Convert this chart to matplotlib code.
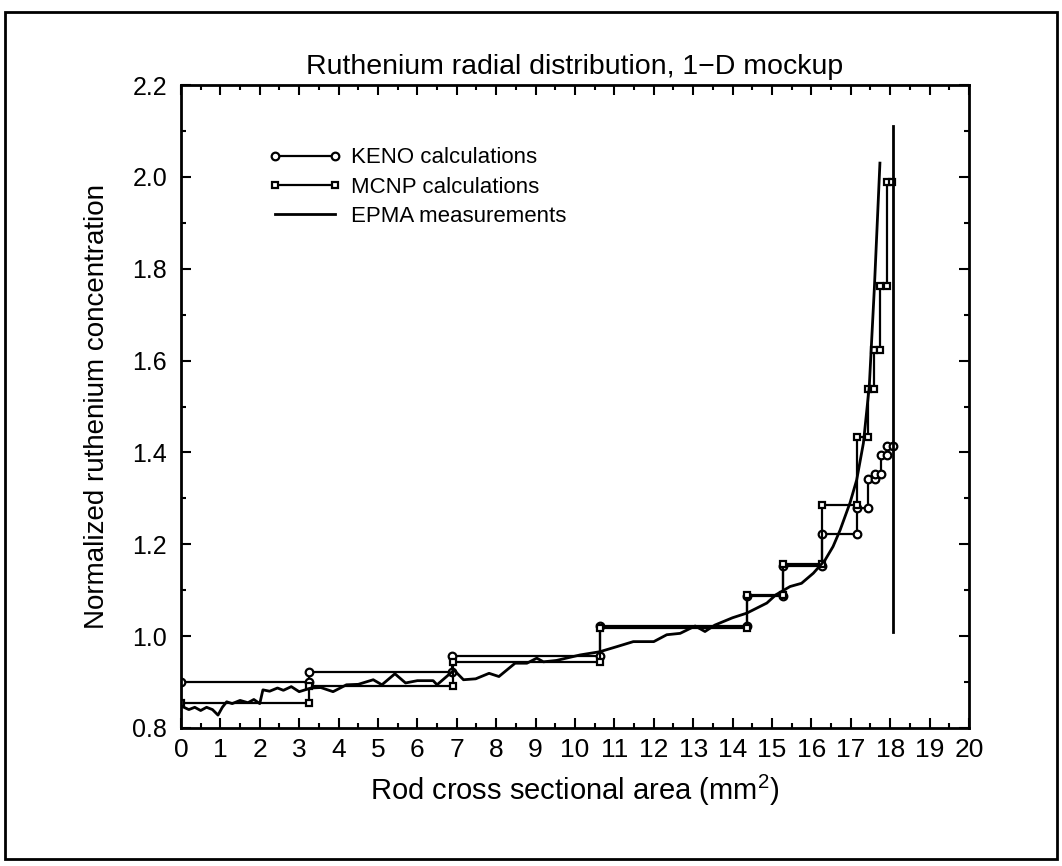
import numpy as np
import matplotlib
matplotlib.use("Agg")
import matplotlib.pyplot as plt
from matplotlib.patches import Rectangle
from matplotlib.ticker import MultipleLocator

plt.rcParams['font.family'] = ['Liberation Sans', 'DejaVu Sans']
plt.rcParams['mathtext.default'] = 'regular'

# KENO step histogram: zone boundaries and zone values
keno_edges = [0, 3.25, 6.88, 10.63, 14.37, 15.29, 16.27, 17.15, 17.45, 17.62, 17.76, 17.91, 18.07]
keno_vals = [0.900, 0.922, 0.957, 1.021, 1.087, 1.153, 1.223, 1.279, 1.342, 1.352, 1.395, 1.413]

# MCNP step histogram
mcnp_edges = [0, 3.25, 6.90, 10.63, 14.37, 15.29, 16.27, 17.15, 17.45, 17.60, 17.75, 17.92, 18.05]
mcnp_vals = [0.855, 0.892, 0.944, 1.018, 1.090, 1.158, 1.285, 1.434, 1.538, 1.624, 1.762, 1.988]

# EPMA measurements
epma_x = [0.05, 0.2, 0.35, 0.5, 0.65, 0.8, 0.94, 1.05, 1.16, 1.3, 1.5, 1.7, 1.85, 2.0, 2.08,
          2.25, 2.45, 2.6, 2.8, 3.0, 3.3, 3.55, 3.86, 4.2, 4.5, 4.88, 5.1, 5.43, 5.7, 6.0,
          6.4, 6.5, 6.93, 7.17, 7.48, 7.82, 8.07, 8.48, 8.78, 9.03, 9.2, 9.53, 10.13, 10.63,
          11.06, 11.48, 12.0, 12.33, 12.67, 13.05, 13.3, 13.55, 14.0, 14.36, 14.87, 15.1,
          15.46, 15.75, 16.05, 16.35, 16.55, 16.73, 16.98, 17.15, 17.32, 17.47, 17.6, 17.74]
epma_y = [0.846, 0.840, 0.845, 0.838, 0.845, 0.840, 0.828, 0.845, 0.857, 0.853, 0.860, 0.855,
          0.862, 0.853, 0.883, 0.880, 0.887, 0.882, 0.890, 0.879, 0.887, 0.888, 0.879, 0.894,
          0.895, 0.905, 0.894, 0.918, 0.898, 0.903, 0.903, 0.894, 0.926, 0.905, 0.907, 0.919,
          0.912, 0.941, 0.941, 0.952, 0.944, 0.947, 0.959, 0.966, 0.977, 0.988, 0.988, 1.003,
          1.006, 1.022, 1.010, 1.024, 1.040, 1.050, 1.072, 1.090, 1.108, 1.115, 1.137, 1.166,
          1.195, 1.231, 1.290, 1.340, 1.420, 1.544, 1.760, 2.030]
epma_edge_x = [18.07, 18.07]
epma_edge_y = [1.01, 2.11]


def steps(edges, vals):
    xs, ys = [], []
    for i, v in enumerate(vals):
        xs += [edges[i], edges[i + 1]]
        ys += [v, v]
    return xs, ys


fig = plt.figure(figsize=(10.62, 8.66), dpi=100)
ax = fig.add_axes([0.1704, 0.1594, 0.9124 - 0.1704, 0.9018 - 0.1594])

kx, ky = steps(keno_edges, keno_vals)
mx, my = steps(mcnp_edges, mcnp_vals)

ax.plot(kx, ky, "k-", lw=1.6, marker="o", ms=5.5, mfc="white", mew=1.6, label="KENO calculations")
ax.plot(mx, my, "k-", lw=1.6, marker="s", ms=5, mfc="white", mew=1.6, label="MCNP calculations")
ax.plot(epma_x, epma_y, "k-", lw=2, label="EPMA measurements")
ax.plot(epma_edge_x, epma_edge_y, "k-", lw=2)

ax.set_xlim(0, 20)
ax.set_ylim(0.8, 2.2)
ax.xaxis.set_major_locator(MultipleLocator(1))
ax.xaxis.set_minor_locator(MultipleLocator(0.5))
ax.yaxis.set_major_locator(MultipleLocator(0.2))
ax.yaxis.set_minor_locator(MultipleLocator(0.1))
ax.yaxis.set_major_formatter(plt.FormatStrFormatter("%.1f"))
ax.tick_params(which="both", direction="in", top=True, right=True, width=1.5)
ax.tick_params(which="major", length=7)
ax.tick_params(which="minor", length=3.5)
ax.tick_params(axis="x", labelsize=19, pad=7)
ax.tick_params(axis="y", labelsize=18, pad=10)
for s in ax.spines.values():
    s.set_linewidth(2)

ax.set_xlabel("Rod cross sectional area (mm$^2$)", fontsize=21, labelpad=8)
ax.set_ylabel("Normalized ruthenium concentration", fontsize=20, labelpad=16)
ax.set_title("Ruthenium radial distribution, 1\u2212D mockup", fontsize=20.5, pad=8)

ax.legend(loc="upper left", bbox_to_anchor=(0.1, 0.917), frameon=False, fontsize=16,
          numpoints=2, handlelength=3.3, handletextpad=0.4, labelspacing=0.38,
          borderaxespad=0)

fig.patches.append(Rectangle((0.005, 0.008), 0.99, 0.978, transform=fig.transFigure,
                             fill=False, edgecolor="black", linewidth=2))

plt.savefig("out.png", dpi=100)
